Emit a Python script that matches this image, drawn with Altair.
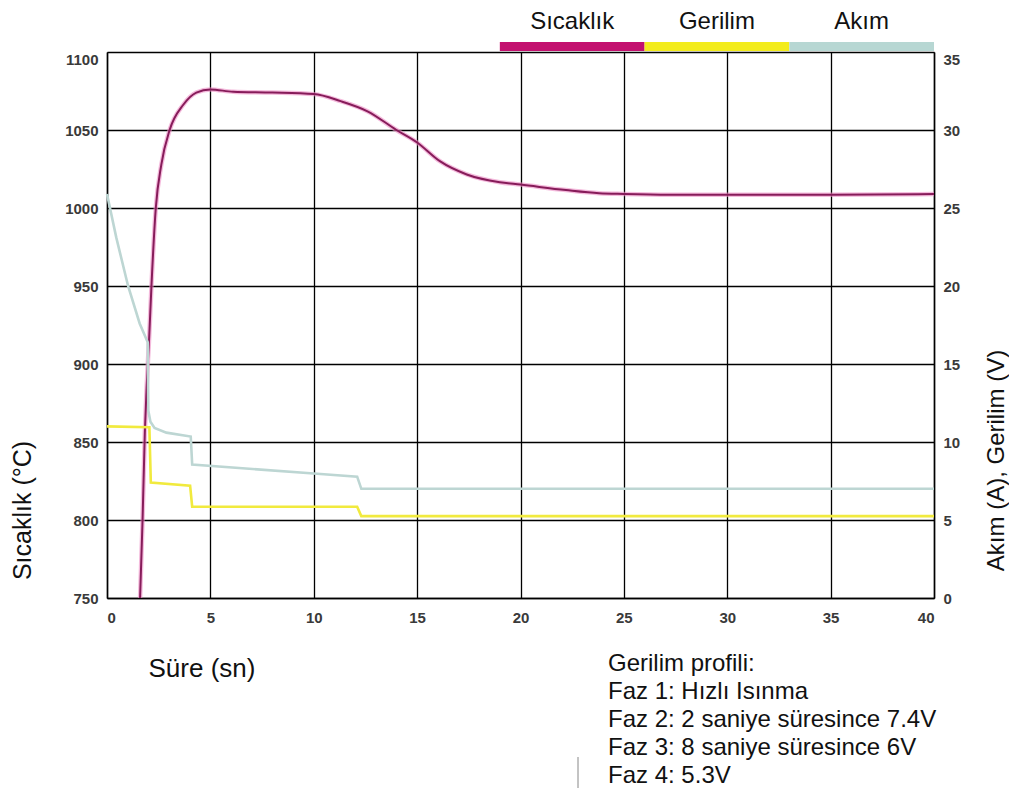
import altair as alt
import pandas as pd

# ---- data ----
temp_time = [1.6, 1.72, 1.83, 1.92, 2.04, 2.15, 2.36, 2.63, 3.03, 3.68, 4.32, 5.0, 6.1, 8.0,
             10.0, 11.3, 12.6, 14.0, 15.0, 16.1, 17.4, 19.0, 20.0, 22.2, 23.8, 25.0, 27.2,
             30.0, 35.0, 40.0]
temp_val = [750, 800, 856, 886, 917, 950, 1000, 1028, 1050, 1066, 1074, 1076, 1074.5, 1074,
            1073, 1068.5, 1062, 1050, 1042, 1030, 1021.5, 1016.5, 1015, 1011.5, 1009.5,
            1009, 1008.5, 1008.5, 1008.5, 1009]

volt_time = [0, 2.05, 2.12, 4.02, 4.12, 12.1, 12.3, 40]
volt_val = [11.0, 10.95, 7.4, 7.2, 5.85, 5.85, 5.25, 5.25]

cur_time = [0, 0.45, 1.02, 1.58, 1.97, 2.0, 2.1, 2.3, 2.87, 4.05, 4.12, 10.0, 12.1, 12.3, 40]
cur_val = [25.9, 23.1, 20.0, 17.6, 16.4, 12.0, 11.3, 10.9, 10.6, 10.35, 8.55, 7.98, 7.78, 7.0, 7.0]

legend_labels = ["Sıcaklık", "Gerilim", "Akım"]
legend_start = [19, 26, 33]
legend_end = [26, 33, 40]
legend_colors = ["#c3116f", "#f3ec1c", "#b7d7d3"]

x_ticks = list(range(0, 41, 5))
left_ticks = list(range(750, 1101, 50))
right_ticks = list(range(0, 36, 5))

profile_lines = ["Gerilim profili:", "Faz 1: Hızlı Isınma", "Faz 2: 2 saniye süresince 7.4V",
                 "Faz 3: 8 saniye süresince 6V", "Faz 4: 5.3V"]

# ---- build ----
W, H = 827, 546
FONT = "Liberation Sans"

temp_df = pd.DataFrame({"t": temp_time, "v": temp_val})
right_df = pd.concat([
    pd.DataFrame({"t": volt_time, "v": volt_val, "s": "Gerilim"}),
    pd.DataFrame({"t": cur_time, "v": cur_val, "s": "Akım"}),
], ignore_index=True)
legend_df = pd.DataFrame({"a": legend_start, "b": legend_end, "lab": legend_labels,
                          "c": legend_colors})
legend_df["mid"] = (legend_df["a"] + legend_df["b"]) / 2
text_df = pd.DataFrame({"txt": ["\n".join(profile_lines)]})

x_scale = alt.Scale(domain=[0, 40], nice=False, zero=False)
x_axis = alt.Axis(values=x_ticks, grid=True, ticks=False, labelFlush=True, format="d",
                  title="Süre (sn)", titleX=41, titleY=70, titleAlign="left",
                  titleBaseline="middle", titleAngle=0, titleFontSize=26)
x_enc = alt.X("t:Q", scale=x_scale, axis=x_axis)

y_left = alt.Y("v:Q", scale=alt.Scale(domain=[750, 1100], nice=False, zero=False),
               axis=alt.Axis(values=left_ticks, orient="left", grid=True, ticks=False, format="d",
                             title="Sıcaklık (°C)", titleX=-85, titleY=458,
                             titleAngle=-90, titleAlign="center", titleBaseline="middle",
                             labelBaseline={"condition": {"test": "datum.value >= 1100", "value": "top"},
                                            "value": "middle"}))
y_right = alt.Y("v:Q", scale=alt.Scale(domain=[0, 35], nice=False, zero=True),
                axis=alt.Axis(values=right_ticks, orient="right", grid=False, ticks=False, format="d",
                              title="Akım (A), Gerilim (V)", titleX=69, titleY=408,
                              titleFontSize=24,
                              titleAngle=-90, titleAlign="center", titleBaseline="alphabetic",
                              labelBaseline={"condition": {"test": "datum.value >= 35", "value": "top"},
                                             "value": "middle"}))

temp_halo = alt.Chart(temp_df).mark_line(color="#ec8cc4", strokeWidth=4.5, opacity=0.6,
                                         interpolate="monotone").encode(x=x_enc, y=y_left)
temp_core = alt.Chart(temp_df).mark_line(color="#871c5a", strokeWidth=2,
                                         interpolate="monotone").encode(x=x_enc, y=y_left)
temp = alt.layer(temp_halo, temp_core)

right_lines = alt.Chart(right_df).mark_line(strokeWidth=2.6).encode(
    x=x_enc, y=y_right,
    color=alt.Color("s:N", scale=alt.Scale(domain=["Gerilim", "Akım"],
                                           range=["#f1ea3e", "#bdd6d3"]), legend=None),
    order=alt.Order("t:Q"),
)

legend_bar = alt.Chart(legend_df).mark_rect().encode(
    x=alt.X("a:Q", scale=x_scale, axis=x_axis),
    x2="b:Q",
    y=alt.value(-10), y2=alt.value(-1),
    color=alt.Color("c:N", scale=None),
)
legend_text = alt.Chart(legend_df).mark_text(font=FONT, fontSize=24, color="#111",
                                             baseline="alphabetic").encode(
    x=alt.X("mid:Q", scale=x_scale, axis=x_axis),
    y=alt.value(-23.5),
    text="lab:N",
)

profile = alt.Chart(text_df).mark_text(font=FONT, fontSize=24, color="#111", align="left",
                                       baseline="alphabetic", lineBreak="\n",
                                       lineHeight=28).encode(
    x=alt.value(501), y=alt.value(619), text="txt:N")

stray = alt.Chart(text_df).mark_rule(color="#888", strokeWidth=1).encode(
    x=alt.value(471), y=alt.value(705), y2=alt.value(748))

chart = alt.layer(temp, right_lines, legend_bar, legend_text, profile, stray).resolve_scale(
    y="independent"
).properties(
    width=W, height=H,
    autosize=alt.AutoSizeParams(type="none"),
    padding={"left": 99, "top": 44, "right": 75, "bottom": 190},
).configure_view(stroke=None).configure_axis(
    domainColor="black", domainWidth=1.5, gridColor="black", gridWidth=1.3, gridOpacity=1,
    labelFont=FONT, labelFontSize=15, labelFontWeight="bold", labelColor="#3a3a3a",
    labelPadding=9, titleFont=FONT, titleFontSize=25, titleFontWeight="normal",
    titleColor="#111",
).configure_axisX(labelPadding=12)

chart.save("out.html", embed_options={"renderer": "svg", "actions": False})
